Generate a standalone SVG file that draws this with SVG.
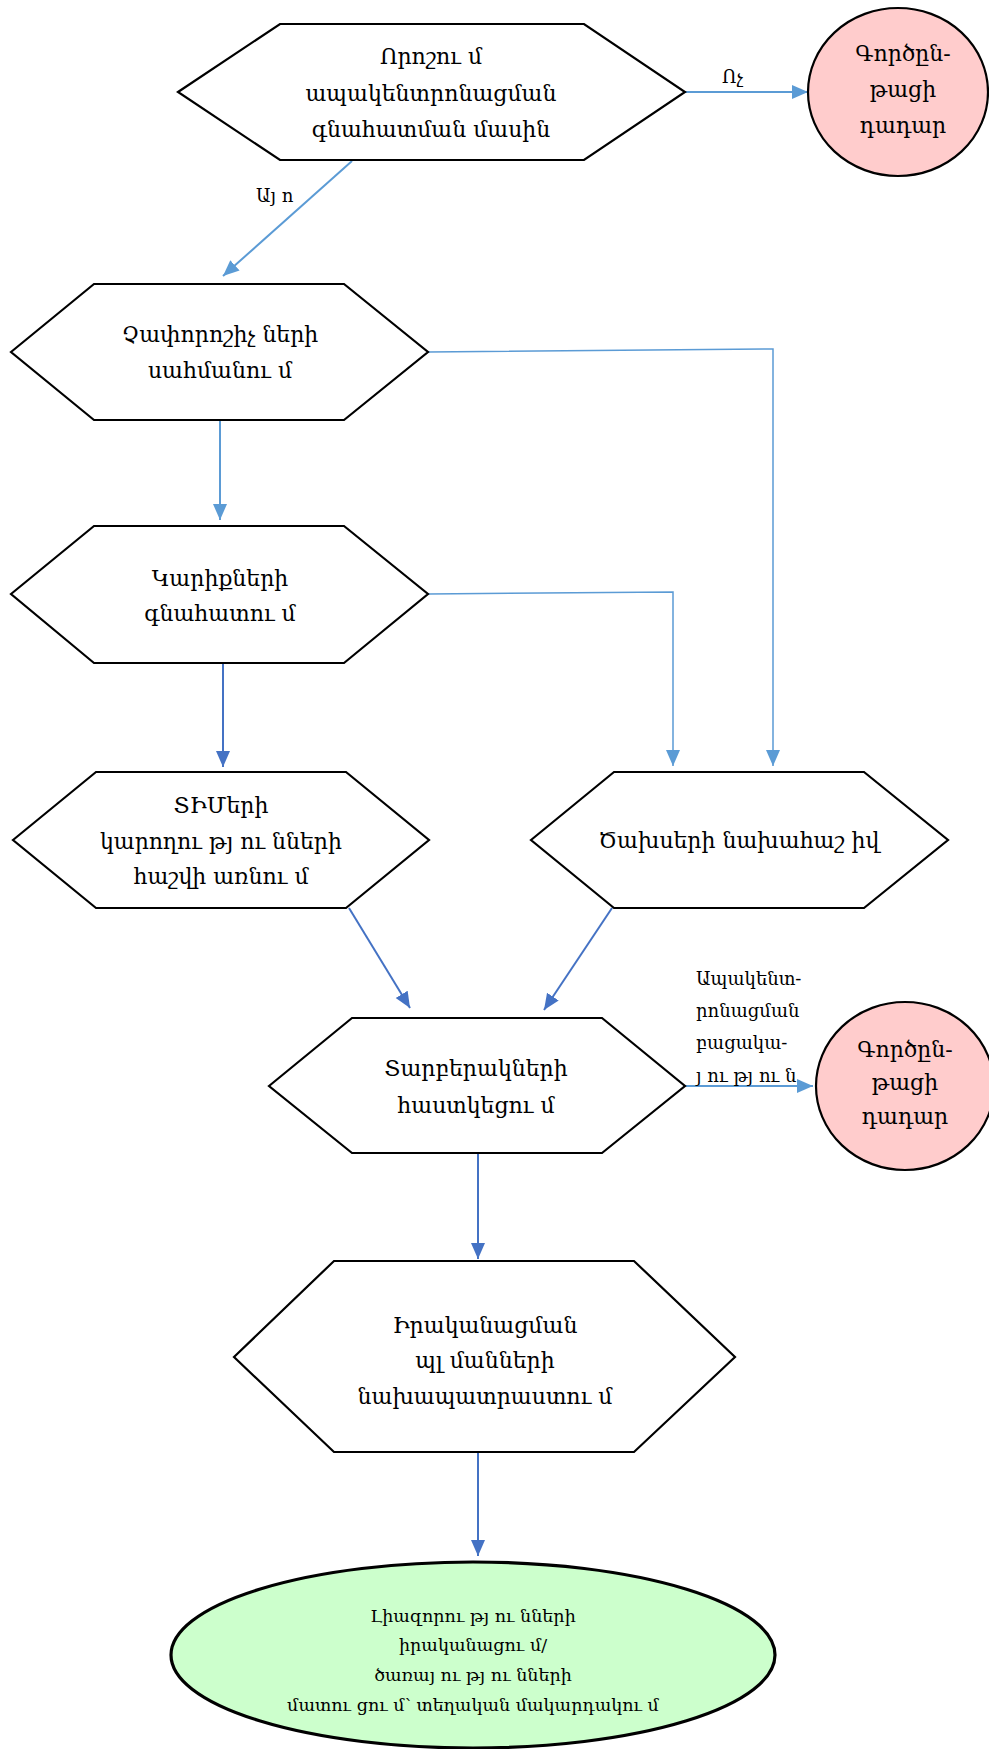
<svg xmlns="http://www.w3.org/2000/svg" width="989" height="1749" viewBox="0 0 989 1749">
<style>
.shape{fill:#ffffff;stroke:#000000;stroke-width:2.2}
.stop{fill:#FFCCCC;stroke:#000000;stroke-width:2.2}
.end{fill:#CCFFCC;stroke:#000000;stroke-width:3.2}
.t{font-family:"DejaVu Serif","DejaVu Sans",serif;font-size:22px;fill:#000000;text-anchor:middle}
.ts{font-family:"DejaVu Serif","DejaVu Sans",serif;font-size:17.5px;fill:#000000;text-anchor:middle}
.lab{font-family:"DejaVu Serif","DejaVu Sans",serif;font-size:18px;fill:#000000}
.cl{fill:none;stroke:#5B9BD5;stroke-width:2}
.cl1{fill:none;stroke:#5B9BD5;stroke-width:1.5}
.cd{fill:none;stroke:#4472C4;stroke-width:2}
</style>
<defs>
<marker id="al" markerUnits="userSpaceOnUse" markerWidth="18" markerHeight="16" refX="16" refY="7" orient="auto">
<path d="M0,0 L16,7 L0,14 Z" fill="#5B9BD5"/>
</marker>
<marker id="ad" markerUnits="userSpaceOnUse" markerWidth="18" markerHeight="16" refX="16" refY="7" orient="auto">
<path d="M0,0 L16,7 L0,14 Z" fill="#4472C4"/>
</marker>
</defs>
<g id="connectors">
<path class="cl" d="M685,92 L808,92" marker-end="url(#al)"/>
<path class="cl" d="M352,161 L223,276" marker-end="url(#al)"/>
<path class="cl" d="M220,420 L220,520" marker-end="url(#al)"/>
<path class="cl1" d="M428,352 L773,349 L773,766" marker-end="url(#al)"/>
<path class="cl1" d="M428,594 L673,592 L673,766" marker-end="url(#al)"/>
<path class="cd" d="M223,663 L223,767" marker-end="url(#ad)"/>
<path class="cd" d="M349,908 L410,1008" marker-end="url(#ad)"/>
<path class="cd" d="M612,908 L544,1010" marker-end="url(#ad)"/>
<path class="cl" d="M685,1086 L813,1086" marker-end="url(#al)"/>
<path class="cd" d="M478,1153 L478,1259" marker-end="url(#ad)"/>
<path class="cd" d="M478,1452 L478,1556" marker-end="url(#ad)"/>
<text class="lab" x="722" y="83">Ոչ</text>
<text class="lab" x="256" y="202">Այ ո</text>
<text class="lab" x="696" y="985">Ապակենտ-</text>
<text class="lab" x="696" y="1017">րոնացման</text>
<text class="lab" x="696" y="1049">բացակա-</text>
<text class="lab" x="696" y="1082">յ ու թյ ու ն</text>
</g>
<g id="n1">
<polygon class="shape" points="178,92 280,24 584,24 685,92 584,160 280,160"/>
<text class="t" x="431" y="64">Որոշու մ</text>
<text class="t" x="431" y="101">ապակենտրոնացման</text>
<text class="t" x="431" y="137">գնահատման մասին</text>
</g>
<g id="stop1">
<ellipse class="stop" cx="898" cy="92" rx="90" ry="84"/>
<text class="t" x="903" y="61">Գործըն-</text>
<text class="t" x="903" y="97">թացի</text>
<text class="t" x="903" y="133">դադար</text>
</g>
<g id="n2">
<polygon class="shape" points="11,352 94,284 344,284 428,352 344,420 94,420"/>
<text class="t" x="220" y="342">Չափորոշիչ ների</text>
<text class="t" x="220" y="378">սահմանու մ</text>
</g>
<g id="n3">
<polygon class="shape" points="11,594 94,526 344,526 428,594 344,663 94,663"/>
<text class="t" x="220" y="586">Կարիքների</text>
<text class="t" x="220" y="621">գնահատու մ</text>
</g>
<g id="n4">
<polygon class="shape" points="13,840 96,772 346,772 429,840 346,908 96,908"/>
<text class="t" x="221" y="813">ՏԻՄերի</text>
<text class="t" x="221" y="849">կարողու թյ ու նների</text>
<text class="t" x="221" y="884">հաշվի առնու մ</text>
</g>
<g id="n5">
<polygon class="shape" points="531,840 614,772 864,772 948,840 864,908 614,908"/>
<text class="t" x="739" y="848">Ծախսերի նախահաշ իվ</text>
</g>
<g id="n6">
<polygon class="shape" points="269,1086 352,1018 602,1018 685,1086 602,1153 352,1153"/>
<text class="t" x="476" y="1076">Տարբերակների</text>
<text class="t" x="476" y="1113">հաստկեցու մ</text>
</g>
<g id="stop2">
<ellipse class="stop" cx="905" cy="1086" rx="89" ry="84"/>
<text class="t" x="905" y="1057">Գործըն-</text>
<text class="t" x="905" y="1090">թացի</text>
<text class="t" x="905" y="1124">դադար</text>
</g>
<g id="n7">
<polygon class="shape" points="234,1357 334,1261 634,1261 735,1357 634,1452 334,1452"/>
<text class="t" x="485" y="1333">Իրականացման</text>
<text class="t" x="485" y="1368">պլ մանների</text>
<text class="t" x="485" y="1404">նախապատրաստու մ</text>
</g>
<g id="end">
<ellipse class="end" cx="473" cy="1655" rx="302" ry="93"/>
<text class="ts" x="473" y="1622">Լիազորու թյ ու նների</text>
<text class="ts" x="473" y="1651">իրականացու մ/</text>
<text class="ts" x="473" y="1681">ծառայ ու թյ ու նների</text>
<text class="ts" x="473" y="1711">մատու ցու մ՝ տեղական մակարդակու մ</text>
</g>
</svg>
